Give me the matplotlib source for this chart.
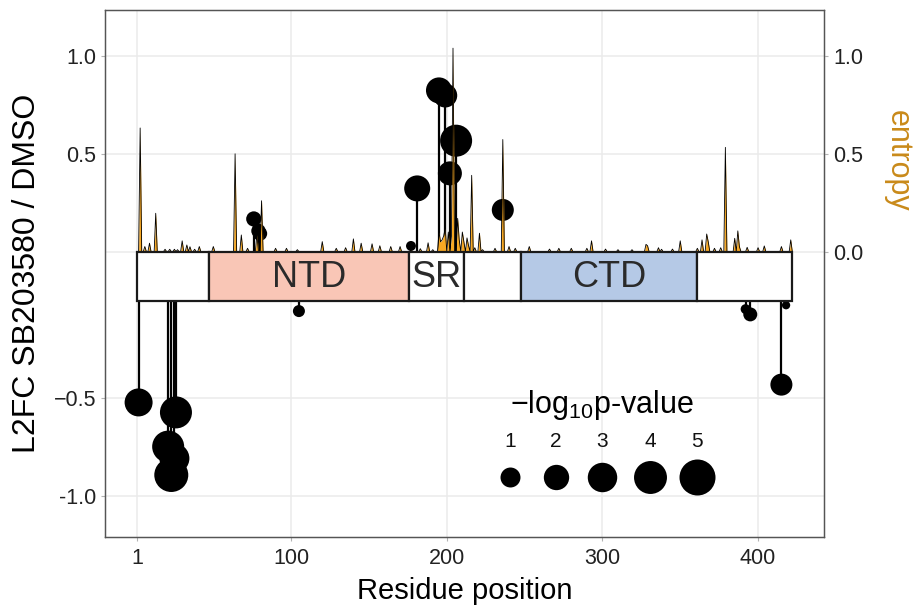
import matplotlib.pyplot as plt
from matplotlib.patches import Rectangle
import numpy as np

plt.rcParams['font.family'] = ['Liberation Sans', 'DejaVu Sans']
plt.rcParams['mathtext.fontset'] = 'custom'
plt.rcParams['mathtext.rm'] = 'Liberation Sans'

# lollipop data (residue, log2 fold change, -log10 p)
residue = [76, 79, 80, 177, 181, 195, 199, 202, 206, 236,
           2, 21, 23, 25, 26, 105, 392, 395, 415, 418]
l2fc = [0.167, 0.106, 0.092, 0.029, 0.323, 0.824, 0.798, 0.400, 0.567, 0.213,
        -0.521, -0.747, -0.892, -0.807, -0.572, -0.054, -0.044, -0.071, -0.430, -0.024]
neglog_p = [0.40, 0.32, 0.32, 0.05, 2.15, 2.15, 1.72, 1.72, 3.72, 1.34,
            2.62, 3.72, 4.33, 3.15, 3.72, 0.15, 0.05, 0.29, 1.34, 0.01]

# per-residue entropy (residues not listed are 0)
ent_res = [3, 6, 9, 13, 19, 22, 25, 27, 30, 33, 35, 38, 41, 50, 64, 68, 72, 78, 81,
           90, 97, 104, 120, 129, 135, 140, 145, 152, 157, 164, 170, 177, 183, 188,
           191, 195, 196, 197, 198, 199, 201, 203, 204, 207, 208, 210, 211, 213, 214,
           216, 218, 221, 223, 231, 236, 240, 244, 253, 266, 272, 280, 290, 293, 302,
           310, 319, 328, 329, 336, 338, 345, 350, 361, 364, 367, 368, 372, 376, 379,
           385, 387, 388, 393, 400, 404, 415, 421]
ent_val = [0.632, 0.026, 0.043, 0.196, 0.012, 0.012, 0.012, 0.010, 0.055, 0.034,
           0.025, 0.012, 0.026, 0.026, 0.500, 0.085, 0.017, 0.087, 0.260,
           0.017, 0.017, 0.010, 0.051, 0.017, 0.020, 0.065, 0.043, 0.040, 0.030,
           0.026, 0.026, 0.010, 0.015, 0.045,
           0.010, 0.100, 0.050, 0.060, 0.080, 0.120, 0.100, 0.080, 1.040, 0.170,
           0.060, 0.100, 0.050, 0.070, 0.030,
           0.390, 0.020, 0.094, 0.010, 0.017, 0.573, 0.026, 0.017, 0.026, 0.013,
           0.017, 0.017, 0.017, 0.055, 0.013,
           0.010, 0.010, 0.037, 0.030, 0.020, 0.012, 0.013, 0.055, 0.017, 0.060,
           0.090, 0.050, 0.017, 0.020, 0.533,
           0.068, 0.106, 0.026, 0.022, 0.020, 0.029, 0.026, 0.060]
protein_len = 422

dom_names = ['', 'NTD', 'SR', '', 'CTD', '']
dom_start = [1, 47, 176, 211, 248, 361]
dom_end = [47, 176, 211, 248, 361, 422]
dom_colors = ['white', '#F9C6B6', 'white', 'white', '#B5C9E6', 'white']

legend_p = [1, 2, 3, 4, 5]

GAP = 0.125  # half height of the domain bar, in L2FC units


def shift(v):
    v = np.asarray(v, dtype=float)
    return np.where(v >= 0, v + GAP, v - GAP)


def marker_area(p):
    r = 3.5 + 14.5 * np.sqrt(np.asarray(p, dtype=float) / 5)  # radius in px
    return (2 * r * 0.72) ** 2


fig = plt.figure(figsize=(9.15, 6.11), dpi=100)
ax = fig.add_axes([0.1148, 0.1211, 0.7858, 0.8625])
ax.set_xlim(-19.56, 442.4)
ax.set_ylim(-1.334, 1.36)

grid_c = '#EBEBEB'
ax.set_xticks([1, 100, 200, 300, 400])
left_ticks = [1.0, 0.5, -0.5, -1.0]
ax.set_yticks(shift(left_ticks))
ax.set_yticklabels(['1.0', '0.5', '\u22120.5', '-1.0'])
ax.grid(color=grid_c, lw=1.1)
ax.axhline(GAP, color=grid_c, lw=1.1, zorder=0)
ax.set_axisbelow(True)

x = np.array(residue)
y = shift(l2fc)
base = np.where(np.array(l2fc) >= 0, GAP, -GAP)
ax.vlines(x, base, y, color='black', lw=1.6, zorder=2)
ax.scatter(x, y, s=marker_area(neglog_p), color='black', linewidths=0, zorder=3)

# entropy track sitting on top of the domain bar
res_all = np.arange(1, protein_len + 1)
ent = np.zeros(protein_len)
ent[np.array(ent_res) - 1] = ent_val
ax.fill_between(res_all, GAP, GAP + ent, color='#F7A823', lw=0, zorder=4)
ax.plot(res_all, GAP + ent, color='black', lw=0.6, zorder=5)

for name, s, e, c in zip(dom_names, dom_start, dom_end, dom_colors):
    ax.add_patch(Rectangle((s, -GAP), e - s, 2 * GAP, facecolor=c,
                           edgecolor='#1a1a1a', lw=1.6, zorder=6))
    if name:
        ax.text((s + e) / 2, -0.005, name, ha='center', va='center',
                fontsize=26, color='#2a2a2a', zorder=7)

ax2 = ax.twinx()
ax2.set_ylim(ax.get_ylim())
ax2.set_yticks(GAP + np.array([0.0, 0.5, 1.0]))
ax2.set_yticklabels(['0.0', '0.5', '1.0'])

for a in (ax, ax2):
    a.tick_params(labelsize=15.5, colors='#222222', length=3, width=0.8)
    a.tick_params(color='#B3B3B3')
    for sp in a.spines.values():
        sp.set_color('#555555')
        sp.set_linewidth(0.9)
ax.tick_params(axis='x', pad=5)

ax.set_xlabel('Residue position', fontsize=21, labelpad=6)
ax.set_ylabel('L2FC SB203580 / DMSO', fontsize=23, labelpad=8)
fig.text(898 / 915, 1 - 161 / 611, 'entropy', rotation=270, ha='center',
         va='center', fontsize=22, color='#C98A1A')

# size legend
lx = [0.563, 0.627, 0.691, 0.758, 0.823]
for xx, p in zip(lx, legend_p):
    ax.scatter(xx, 0.114, s=marker_area(p), color='black', linewidths=0,
               transform=ax.transAxes, zorder=8)
    ax.text(xx, 0.182, str(p), transform=ax.transAxes, ha='center',
            va='center', fontsize=15, color='#111111')
ax.text(0.691, 0.25, '\u2212log$_{\\mathregular{10}}$p-value', transform=ax.transAxes,
        ha='center', va='center', fontsize=22)

fig.savefig('out.png', dpi=100)
